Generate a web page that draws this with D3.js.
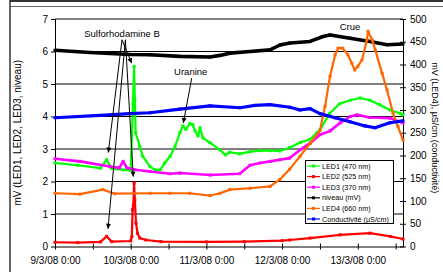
<!DOCTYPE html>
<html><head><meta charset="utf-8">
<script src="https://cdn.jsdelivr.net/npm/d3@7"></script>
<style>
body{margin:0;background:#fff;}
svg{display:block;font-family:"Liberation Sans",Arial,sans-serif;}
</style></head><body>
<svg id="c" width="443" height="272"></svg>
<script>
// ---------- DATA (time in days since 9/3/08 0:00) ----------
const START = new Date(2008, 2, 9, 0, 0);
const END_DAYS = 4.597;
const leftTicks = [0, 1, 2, 3, 4, 5, 6, 7];
const rightTicks = [0, 50, 100, 150, 200, 250, 300, 350, 400, 450, 500];
const leftTitle = "mV (LED1, LED2, LED3, niveau)";
const rightTitle = "mV (LED4), µS/cm (conductivité)";

const led1T = [0, 0.3, 0.6, 0.683, 0.75, 0.9, 1.0, 1.03, 1.045, 1.055, 1.065, 1.12, 1.16, 1.255, 1.32, 1.39, 1.45, 1.52, 1.585, 1.65, 1.69, 1.73, 1.78, 1.82, 1.85, 1.89, 1.915, 1.955, 2.05, 2.18, 2.25, 2.31, 2.44, 2.58, 2.71, 2.84, 2.97, 3.10, 3.24, 3.37, 3.46, 3.5, 3.63, 3.765, 3.9, 4.03, 4.16, 4.29, 4.425, 4.557, 4.597];
const led1V = [2.57, 2.5, 2.41, 2.67, 2.4, 2.36, 2.34, 4.4, 5.54, 4.5, 3.5, 3.08, 2.77, 2.46, 2.36, 2.36, 2.57, 2.77, 3.08, 3.5, 3.71, 3.6, 3.78, 3.75, 3.56, 3.4, 3.65, 3.34, 3.19, 2.97, 2.82, 2.9, 2.85, 2.92, 2.95, 2.95, 2.94, 3.04, 3.2, 3.3, 3.5, 3.59, 4.1, 4.4, 4.5, 4.57, 4.5, 4.36, 4.2, 4.1, 4.05];

const led2T = [0, 0.3, 0.6, 0.683, 0.75, 1.0, 1.015, 1.025, 1.035, 1.045, 1.055, 1.07, 1.09, 1.12, 1.2, 1.4, 2.0, 2.5, 3.0, 3.1, 3.37, 3.77, 4.16, 4.43, 4.597];
const led2V = [0.13, 0.12, 0.14, 0.31, 0.15, 0.17, 0.3, 1.13, 1.28, 1.95, 1.44, 0.72, 0.41, 0.26, 0.2, 0.15, 0.14, 0.15, 0.18, 0.2, 0.26, 0.36, 0.41, 0.31, 0.23];

const led3T = [0, 0.33, 0.727, 0.85, 0.9, 0.95, 1.057, 1.255, 1.52, 1.65, 2.05, 2.44, 2.576, 2.708, 2.84, 2.97, 3.1, 3.24, 3.37, 3.5, 3.63, 3.765, 3.9, 3.99, 4.16, 4.425, 4.597];
const led3V = [2.7, 2.62, 2.46, 2.42, 2.62, 2.42, 2.36, 2.31, 2.24, 2.26, 2.2, 2.24, 2.5, 2.57, 2.62, 2.67, 2.72, 2.98, 3.18, 3.44, 3.55, 3.8, 4.0, 4.05, 3.97, 3.95, 3.8];

const niveauT = [0, 0.462, 0.991, 1.255, 1.651, 2.047, 2.18, 2.31, 2.576, 2.84, 2.972, 3.104, 3.369, 3.54, 3.633, 3.897, 4.161, 4.386, 4.597];
const niveauV = [6.04, 5.97, 5.91, 5.9, 5.85, 5.83, 5.88, 5.95, 6.0, 6.05, 6.2, 6.26, 6.31, 6.46, 6.51, 6.41, 6.31, 6.21, 6.23];

const led4T = [0, 0.33, 0.634, 0.79, 1.255, 1.52, 1.78, 2.05, 2.18, 2.31, 2.576, 2.84, 2.97, 3.1, 3.236, 3.37, 3.5, 3.567, 3.633, 3.7, 3.74, 3.8, 3.87, 3.92, 3.96, 4.0, 4.055, 4.12, 4.135, 4.19, 4.23, 4.32, 4.386, 4.465, 4.53, 4.597];
const led4V = [117, 115, 125, 116, 117, 117, 117, 112, 117, 125, 128, 132, 147, 170, 198, 227, 255, 308, 374, 421, 436, 436, 421, 403, 388, 396, 410, 454, 473, 454, 432, 381, 344, 293, 264, 234];

const condT = [0, 0.594, 0.991, 1.255, 1.651, 2.047, 2.444, 2.642, 2.84, 3.104, 3.236, 3.369, 3.501, 3.699, 3.897, 4.095, 4.227, 4.425, 4.597];
const condV = [283, 288, 292, 294, 302, 309, 305, 310, 312, 306, 300, 303, 292, 283, 274, 265, 261, 272, 276];

const seriesNames = ["LED1 (470 nm)", "LED2 (525 nm)", "LED3 (370 nm)", "niveau (mV)", "LED4 (660 nm)", "Conductivité (µS/cm)"];
const seriesColors = ["#00ff00", "#ff0000", "#ff00ff", "#000000", "#ff6600", "#0000ff"];

// annotations (in data units: days, left-axis value)
const annotTexts = ["Sulforhodamine B", "Uranine", "Crue"];
const annotTextPos = [[0.885, 6.46], [1.793, 5.28], [3.897, 6.67]];
const arrowFrom = [[0.885, 6.36], [0.885, 6.36], [0.93, 6.36], [0.93, 6.36], [1.806, 5.18]];
const arrowTo = [[1.013, 5.64], [0.704, 2.89], [0.70, 0.545], [1.034, 2.15], [1.695, 3.8]];

// ---------- CHART ----------
const day = 864e5;
const toDate = t => new Date(START.getTime() + t * day);
const svg = d3.select("#c");

// frame
svg.append("line").attr("x1", 10).attr("x2", 443).attr("y1", 1).attr("y2", 1).attr("stroke", "#333").attr("stroke-width", 2);
svg.append("line").attr("x1", 10).attr("x2", 443).attr("y1", 6.5).attr("y2", 6.5).attr("stroke", "#666").attr("stroke-width", 1);
svg.append("line").attr("x1", 10).attr("x2", 10).attr("y1", 0).attr("y2", 272).attr("stroke", "#333").attr("stroke-width", 1.5);

const x = d3.scaleTime().domain([START, toDate(END_DAYS)]).range([55, 403]);
const yL = d3.scaleLinear().domain([0, 7]).range([246.5, 19]);
const yR = d3.scaleLinear().domain([0, 500]).range([246.5, 19]);

// gridlines
svg.append("g").selectAll("line").data(leftTicks.filter(v => v > 0)).join("line")
  .attr("x1", 55).attr("x2", 403).attr("y1", d => yL(d)).attr("y2", d => yL(d))
  .attr("stroke", "#000").attr("stroke-width", 1);

// axes
const fmt = d3.timeFormat("%-d/%-m/%y %-H:%M");
const gx = svg.append("g").attr("transform", `translate(0,${yL(0)})`)
  .call(d3.axisBottom(x).ticks(d3.timeHour.every(12)).tickSize(3).tickSizeOuter(0).tickPadding(7)
    .tickFormat(d => d.getHours() === 0 ? fmt(d) : ""));
gx.selectAll(".tick line").attr("y1", -3).attr("y2", 3);

const gl = svg.append("g").attr("transform", "translate(55,0)")
  .call(d3.axisLeft(yL).tickValues(leftTicks).tickFormat(d3.format("d")).tickSize(4).tickSizeOuter(0).tickPadding(3));

const gr = svg.append("g").attr("transform", "translate(403,0)")
  .call(d3.axisRight(yR).tickValues(rightTicks).tickFormat(d3.format("d")).tickSize(3).tickSizeOuter(0).tickPadding(4));
gr.selectAll(".tick line").attr("x1", -3);

[gx, gl, gr].forEach(g => {
  g.selectAll("text").attr("font-size", 10).attr("fill", "#000").attr("font-family", "Liberation Sans, Arial, sans-serif");
  g.selectAll("line,path").attr("stroke", "#000");
});

// axis titles
svg.append("text").attr("transform", `translate(21,${(yL(0) + yL(7)) / 2}) rotate(-90)`)
  .attr("text-anchor", "middle").attr("font-size", 10).text(leftTitle);
svg.append("text").attr("transform", `translate(432,${(yL(0) + yL(7)) / 2 - 5}) rotate(90)`)
  .attr("text-anchor", "middle").attr("font-size", 9).text(rightTitle);

// series
const mk = (T, V) => T.map((t, i) => ({ d: toDate(t), v: V[i] }));
const series = [
  { data: mk(led1T, led1V), y: yL, w: 2.2 },
  { data: mk(led2T, led2V), y: yL, w: 2.2 },
  { data: mk(led3T, led3V), y: yL, w: 2.6 },
  { data: mk(niveauT, niveauV), y: yL, w: 3.6 },
  { data: mk(led4T, led4V), y: yR, w: 2.2 },
  { data: mk(condT, condV), y: yR, w: 3.2 }
];
const plot = svg.append("g");
series.forEach((s, i) => {
  const line = d3.line().x(d => x(d.d)).y(d => s.y(d.v));
  plot.append("path").attr("d", line(s.data)).attr("fill", "none")
    .attr("stroke", seriesColors[i]).attr("stroke-width", s.w).attr("stroke-linejoin", "round");
  plot.append("g").selectAll("rect").data(s.data).join("rect")
    .attr("x", d => x(d.d) - 1.5).attr("y", d => s.y(d.v) - 1.5)
    .attr("width", 3).attr("height", 3).attr("fill", seriesColors[i]);
});

// annotations
svg.append("defs").append("marker").attr("id", "ah").attr("viewBox", "0 0 10 10")
  .attr("refX", 10).attr("refY", 5).attr("markerWidth", 6).attr("markerHeight", 5)
  .attr("markerUnits", "userSpaceOnUse").attr("orient", "auto")
  .append("path").attr("d", "M0,0 L10,5 L0,10 z").attr("fill", "#000");
arrowFrom.forEach((f, i) => {
  const t = arrowTo[i];
  svg.append("line").attr("x1", x(toDate(f[0]))).attr("y1", yL(f[1]))
    .attr("x2", x(toDate(t[0]))).attr("y2", yL(t[1]))
    .attr("stroke", "#000").attr("stroke-width", 1).attr("marker-end", "url(#ah)");
});
annotTexts.forEach((txt, i) => {
  svg.append("text").attr("x", x(toDate(annotTextPos[i][0]))).attr("y", yL(annotTextPos[i][1]))
    .attr("text-anchor", "middle").attr("font-size", 9.5).text(txt);
});

// legend
const lg = svg.append("g");
lg.append("rect").attr("x", 305.5).attr("y", 160.5).attr("width", 88).attr("height", 63)
  .attr("fill", "#fff").attr("stroke", "#000").attr("stroke-width", 1);
seriesNames.forEach((n, i) => {
  const yy = 166 + i * 10.6;
  lg.append("line").attr("x1", 307).attr("x2", 320).attr("y1", yy).attr("y2", yy)
    .attr("stroke", seriesColors[i]).attr("stroke-width", 1.2);
  lg.append("rect").attr("x", 312).attr("y", yy - 1.5).attr("width", 3).attr("height", 3).attr("fill", seriesColors[i]);
  lg.append("text").attr("x", 322).attr("y", yy).attr("dy", "0.35em").attr("font-size", 7.2).text(n);
});
</script>
</body></html>
